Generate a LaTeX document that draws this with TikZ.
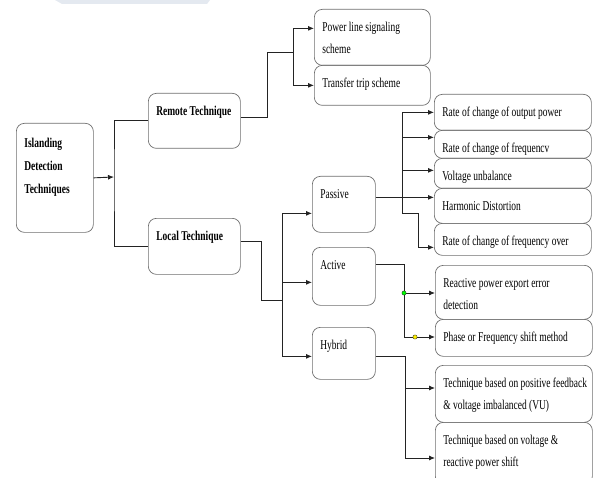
\documentclass[tikz,border=0pt]{standalone}
\usepackage{fontspec}
\setmainfont{Liberation Serif}[FakeStretch=0.7]
\usetikzlibrary{arrows.meta}
\definecolor{boxgray}{RGB}{110,110,110}
\definecolor{linegray}{RGB}{35,35,35}
\definecolor{wmark}{RGB}{228,233,240}
\newcommand{\cell}[3]{\parbox[t][#2][t]{#1}{\fontsize{13.5}{22}\selectfont\raggedright\leftskip=8pt\rightskip=-30pt plus 1fil\rule{0pt}{22pt}#3}}

\begin{document}
\begin{tikzpicture}[x=1pt,y=-1pt,
    tbox/.style={draw=boxgray, line width=0.7pt, rounded corners=8pt, inner sep=0pt, anchor=north west},
    conn/.style={linegray, line width=0.9pt},
    arr/.style={conn, -{Latex[length=6pt,width=5pt]}},
    dot/.style={circle, draw=linegray, line width=0.3pt, inner sep=1.5pt}]

    \useasboundingbox (0,0) rectangle (593,478);

    % Marca de agua
    \fill[wmark] (55,0) -- (210,0) -- (207,4) -- (62,4) -- cycle;

    % Cajas
    \node[tbox] (root) at (16,123) {\cell{77pt}{109pt}{\rule{0pt}{24pt}\textbf{Islanding}\\[1pt]\textbf{Detection}\\[1pt]\textbf{Techniques}}};
    \node[tbox] (remote) at (148,93) {\cell{92pt}{55pt}{\textbf{Remote Technique}}};
    \node[tbox] (local) at (148,218) {\cell{92pt}{56pt}{\textbf{Local Technique}}};

    \node[tbox] (power) at (314,9) {\cell{116pt}{56pt}{Power line signaling\\scheme}};
    \node[tbox] (transfer) at (314,65) {\cell{116pt}{40pt}{Transfer trip scheme}};

    \node[tbox] (passive) at (312,176) {\cell{63pt}{56pt}{Passive}};
    \node[tbox] (active) at (312,247) {\cell{63pt}{58pt}{Active}};
    \node[tbox] (hybrid) at (312,327) {\cell{63pt}{52pt}{Hybrid}};

    \node[tbox] (r1) at (434,94) {\cell{157pt}{36pt}{Rate of change of output power}};
    \node[tbox] (r2) at (434,130) {\cell{157pt}{28pt}{Rate of change of frequencv}};
    \node[tbox] (r3) at (434,158) {\cell{157pt}{30pt}{Voltage unbalance}};
    \node[tbox] (r4) at (434,188) {\cell{157pt}{35pt}{Harmonic Distortion}};
    \node[tbox] (r5) at (434,223) {\cell{157pt}{32pt}{Rate of change of frequency over}};

    \node[tbox] (a1) at (435,265) {\cell{157pt}{54pt}{Reactive power export error\\detection}};
    \node[tbox] (a2) at (435,319) {\cell{157pt}{37pt}{Phase or Frequency shift method}};

    \node[tbox] (h1) at (435,365) {\cell{157pt}{57pt}{Technique based on positive feedback\\\& voltage imbalanced (VU)}};
    \node[tbox] (h2) at (435,422) {\cell{157pt}{62pt}{Technique based on voltage \&\\reactive power shift}};

    % Raiz
    \coordinate (rj) at (114,177);
    \draw[arr] (root.east) -- (rj);
    \draw[conn] (remote.west) -| (rj) |- (local.west);

    % Remota
    \coordinate (rk) at (267,52);
    \coordinate (rs) at (293,52);
    \draw[conn] ([yshift=3pt]remote.east) -| (rk) -- (rs);
    \draw[arr] (rs) |- ([yshift=9pt]power.west);
    \draw[arr] (rs) |- (transfer.west);

    % Local
    \coordinate (lk) at (261,300);
    \coordinate (lv) at (282,300);
    \draw[conn] ([yshift=5pt]local.east) -| (lk) -- (lv);
    \draw[arr] (lv) |- ([yshift=-9pt]passive.west);
    \draw[arr] (lv) |- ([yshift=-6pt]active.west);
    \draw[arr] (lv) |- ([yshift=-3pt]hybrid.west);

    % Pasiva
    \draw[arr] ([yshift=7pt]passive.east) -- ([yshift=7pt]passive.east -| r4.west);
    \coordinate (pv) at (402,213);
    \coordinate (pk) at (418,213);
    \draw[arr] (pv) |- (r1.west);
    \draw[arr] (pv) |- ([yshift=7pt]r2.west);
    \draw[arr] (pv) |- ([yshift=3pt]r3.west);
    \draw[arr] (pv) -- (pk) |- ([yshift=-8pt]r5.west);

    % Activa
    \coordinate (ak) at (404,337);
    \coordinate (ag) at (404,293);
    \coordinate (ay) at (415,337);
    \draw[conn] ([yshift=12pt]active.east) -| (ak);
    \draw[arr] (ak) -- (ak -| a2.west);
    \draw[arr] (ag) -- (ag -| a1.west);
    \node[dot, fill=green] (gdot) at (ag) {};
    \node[dot, fill=yellow] (ydot) at (ay) {};

    % Hibrida
    \coordinate (hk) at (405,458);
    \coordinate (hm) at (405,388);
    \draw[conn] ([yshift=-3pt]hybrid.east) -| (hk);
    \draw[arr] (hk) -- (hk -| h2.west);
    \draw[arr] (hm) -- (hm -| h1.west);

\end{tikzpicture}
\end{document}
